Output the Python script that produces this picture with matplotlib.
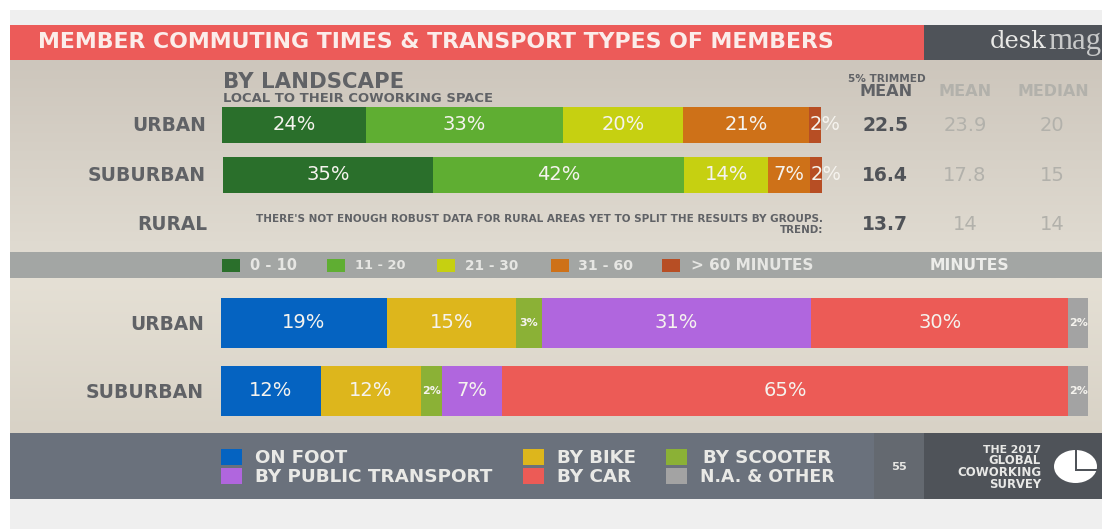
import numpy as np
import matplotlib
matplotlib.use("Agg")
import matplotlib.pyplot as plt
from matplotlib.patches import Rectangle, Wedge
from matplotlib.transforms import Affine2D

plt.rcParams['font.family'] = ['DejaVu Sans']

W, H = 1102, 529

# --- data ---
time_rows = ["URBAN", "SUBURBAN"]
time_groups = ["0 - 10", "11 - 20", "21 - 30", "31 - 60", "> 60 MINUTES"]
time_urban = [24, 33, 20, 21, 2]
time_suburban = [35, 42, 14, 7, 2]
time_urban_labels = ["24%", "33%", "20%", "21%", "2%"]
time_suburban_labels = ["35%", "42%", "14%", "7%", "2%"]
time_colors = ["#2A6F2B", "#5FAE32", "#C6D011", "#CE7118", "#B74E24"]

stat_rows = ["URBAN", "SUBURBAN", "RURAL"]
stat_trimmed = ["22.5", "16.4", "13.7"]
stat_mean = ["23.9", "17.8", "14"]
stat_median = ["20", "15", "14"]

mode_groups = ["ON FOOT", "BY BIKE", "BY SCOOTER", "BY PUBLIC TRANSPORT", "BY CAR", "N.A. & OTHER"]
mode_urban = [19.1, 14.9, 3.0, 31.1, 29.6, 2.3]
mode_suburban = [11.5, 11.6, 2.4, 6.9, 65.3, 2.3]
mode_urban_labels = ["19%", "15%", "3%", "31%", "30%", "2%"]
mode_suburban_labels = ["12%", "12%", "2%", "7%", "65%", "2%"]
mode_colors = ["#0563C1", "#DDB61C", "#8BB136", "#B066DE", "#EC5B56", "#A3A3A3"]

RED = "#EC5B59"
DARK = "#4F5359"
SLATE = "#6A717C"
BAND = "#A3A6A4"
TXT = "#606266"
FAINT = "#B2B1AB"
LABEL = "#F5F3EE"

fig = plt.figure(figsize=(W / 100, H / 100), dpi=100, facecolor="white")
bg = fig.add_axes([0, 0, 1, 1])
bg.set_xlim(0, W)
bg.set_ylim(H, 0)
bg.axis("off")
renderer = fig.canvas.get_renderer()


def rect(x0, y0, x1, y1, c, z=1):
    bg.add_patch(Rectangle((x0, y0), x1 - x0, y1 - y0, fc=c, ec="none", zorder=z))


def grad(x0, y0, x1, y1, top, bottom):
    a = np.array(matplotlib.colors.to_rgb(top))
    b = np.array(matplotlib.colors.to_rgb(bottom))
    t = np.linspace(0, 1, 64)[:, None, None]
    img = a[None, None, :] * (1 - t) + b[None, None, :] * t
    bg.imshow(img, extent=(x0, x1, y1, y0), aspect="auto", zorder=1, interpolation="bilinear")


def fit(t, width):
    """Scale a text's font so that it spans the given width in pixels."""
    w = t.get_window_extent(renderer).width
    t.set_fontsize(t.get_fontsize() * width / w)
    return t


def txt(x, y, s, width, c=TXT, ha="center", weight="bold", **kw):
    t = bg.text(x, y, s, fontsize=10, color=c, ha=ha, va="center", fontweight=weight, zorder=5, **kw)
    return fit(t, width)


def num(x, y, s, size, c=TXT, weight="normal"):
    bg.text(x, y, s, fontsize=size, color=c, ha="center", va="center", fontweight=weight, zorder=5)


# --- page / panels ---
rect(9.5, 10, W, H, "#EFEFEF", 0)
rect(9.5, 24.5, 924, 60, RED)
rect(924, 24.5, W, 60, DARK)
grad(9.5, 60, W, 252, "#CDC6BC", "#E0DBD1")
rect(9.5, 252, W, 278, BAND)
grad(9.5, 278, W, 433, "#E5E0D5", "#D8D2C6")
rect(9.5, 433, 874, 499, SLATE)
rect(874, 433, 924, 499, "#646970")
rect(924, 433, W, 499, DARK)
bg.set_xlim(0, W)
bg.set_ylim(H, 0)

# --- header ---
txt(38, 41.5, "MEMBER COMMUTING TIMES & TRANSPORT TYPES OF MEMBERS", 801, "#FBEDEA", ha="left")
txt(990, 41, "desk", 57, "#E8E8E6", ha="left", weight="normal", family="DejaVu Serif")
txt(1048, 41, "mag", 53, "#C8C9C9", ha="left", weight="normal", family="Liberation Serif")

# --- top panel text ---
txt(223, 82, "BY LANDSCAPE", 181, ha="left")
txt(223, 98, "LOCAL TO THEIR COWORKING SPACE", 271, ha="left")
txt(887, 79, "5% TRIMMED", 78)
txt(886, 92, "MEAN", 53)
txt(965, 92, "MEAN", 53, FAINT)
txt(1053, 92, "MEDIAN", 71, FAINT)

row_y = [125.5, 175.5, 225]
row_right = [206, 206, 207]
row_w = [74, 118, 70]
for y, r, rw, name, a, b, c in zip(row_y, row_right, row_w, stat_rows, stat_trimmed, stat_mean, stat_median):
    txt(r, y, name, rw, ha="right")
    num(885, y, a, 13.5, "#505358", "bold")
    num(965, y, b, 14, FAINT)
    num(1052, y, c, 14, FAINT)

txt(823, 219, "THERE'S NOT ENOUGH ROBUST DATA FOR RURAL AREAS YET TO SPLIT THE RESULTS BY GROUPS.", 570, ha="right")
txt(823, 230, "TREND:", 43, ha="right")

# --- time legend ---
leg_x = [222, 327, 437, 551, 662]
leg_tx = [250, 355, 465, 578, 691]
leg_w = [47, 51, 53, 55, 122]
for x, tx, g, col, w in zip(leg_x, leg_tx, time_groups, time_colors, leg_w):
    rect(x, 259, x + 18, 272, col, 3)
    txt(tx, 265.5, g, w, "#E6E6E3", ha="left")
txt(969, 265.5, "MINUTES", 80, "#EDEDEA")


# --- bars ---
def stacked(x0, y0, x1, y1, vals, cols, labels, small=(), starts=(), size=14, small_size=8):
    ax = fig.add_axes([x0 / W, 1 - y1 / H, (x1 - x0) / W, (y1 - y0) / H])
    ax.set_xlim(0, sum(vals))
    ax.set_ylim(0, 1)
    ax.axis("off")
    left = 0
    for i, (v, c, l) in enumerate(zip(vals, cols, labels)):
        ax.barh(0.5, v, left=left, height=1, color=c, edgecolor="none")
        fs = small_size if i in small else size
        if i in starts:
            ax.text(left + 0.15, 0.5, l, color=LABEL, fontsize=fs, ha="left", va="center", clip_on=False,
                    fontweight="bold" if i in small else "normal")
        else:
            ax.text(left + v / 2, 0.5, l, color=LABEL, fontsize=fs, ha="center", va="center", clip_on=False,
                    fontweight="bold" if i in small else "normal")
        left += v


stacked(222, 107, 821, 143, time_urban, time_colors, time_urban_labels, starts={4})
stacked(223, 157, 822, 193, time_suburban, time_colors, time_suburban_labels, starts={4})
stacked(221, 298, 1088, 347.5, mode_urban, mode_colors, mode_urban_labels, small={2, 5}, starts={5})
stacked(221, 366, 1088, 415.5, mode_suburban, mode_colors, mode_suburban_labels, small={2, 5}, starts={5})

txt(204, 324, "URBAN", 74, ha="right")
txt(204, 392, "SUBURBAN", 118, ha="right")

# --- mode legend ---
leg2 = [(221, 255, 458), (523, 557, 458), (666, 703, 458), (221, 255, 477), (523, 557, 477), (666, 700, 477)]
leg2_w = [93, 80, 130, 240, 75, 135]
for (x, tx, y), g, col, w in zip(leg2, mode_groups, mode_colors, leg2_w):
    rect(x, y - 9, x + 21, y + 7, col, 3)
    txt(tx, y, g, w, "#E9E9E6", ha="left")

txt(899, 467, "55", 16, "#E6E6E3")
for y, s, w in zip([450, 461, 473, 484], ["THE 2017", "GLOBAL", "COWORKING", "SURVEY"], [58, 52, 84, 52]):
    txt(1041, y, s, w, "#E8E8E6", ha="right")

pie = Affine2D().scale(1, 16.5 / 21.5).translate(1075.5, 466.5) + bg.transData
bg.add_patch(Wedge((0, 0), 21.5, 0, 360, fc="white", ec="none", zorder=4, transform=pie))
rect(1075, 449, 1077, 470, DARK, 5)
rect(1075, 468.5, 1098, 470.5, DARK, 5)

fig.savefig("out.png", dpi=100, facecolor="white")
